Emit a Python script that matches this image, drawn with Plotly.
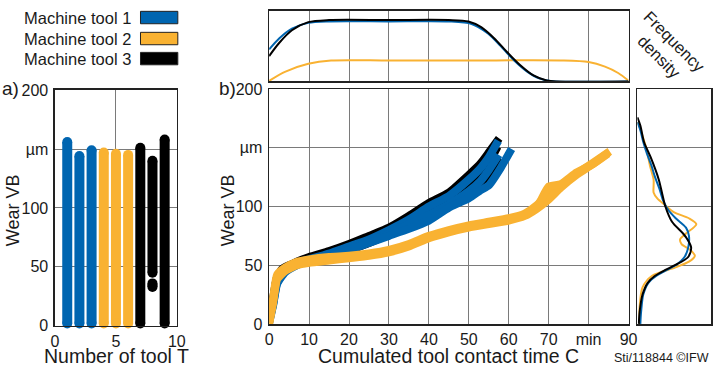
import plotly.graph_objects as go

W, H = 722, 373
FONT = "Liberation Sans, Arial, sans-serif"
TXT = "#1a1a1a"

# ---------------- colours / series names ----------------
machines = ["Machine tool 1", "Machine tool 2", "Machine tool 3"]
colors = ["#0065B0", "#F9B232", "#000000"]

# ---------------- panel a) wear range per tool ----------------
a_tool_m1 = [1, 2, 3]
a_low_m1 = [2, 2, 2]
a_high_m1 = [156, 144, 149]
a_tool_m2 = [4, 5, 6]
a_low_m2 = [2, 2, 2]
a_high_m2 = [147, 146, 145]
a_tool_m3 = [7, 8, 8, 9]
a_low_m3 = [2, 33, 45, 2]
a_high_m3 = [151, 36, 140, 158]

# ---------------- panel b) wear curves (t in min, VB in µm) ----------------
t_b1 = [0, 1, 2, 4, 7, 10, 15, 20, 25, 30, 35, 40, 45, 50, 53, 55, 57.4]
w_b1 = [3, 19, 37, 46, 52, 55, 60, 66, 72, 80, 89, 100, 109, 123, 133, 142, 156]
t_b2 = [0, 1, 2, 4, 7, 10, 15, 20, 25, 30, 35, 40, 45, 50, 53, 55, 57.5]
w_b2 = [2, 17, 35, 45, 51, 54, 59, 64, 70, 77, 85, 93, 102, 113, 122, 131, 144]
t_b3 = [0, 1, 2, 4, 7, 10, 15, 20, 25, 30, 35, 40, 45, 50, 53, 55, 58, 60.7]
w_b3 = [1, 16, 34, 44, 50, 54, 58, 63, 69, 75, 81, 88, 99, 107, 114, 118, 133, 149]

t_y4 = [0, 1, 2, 4, 7, 10, 15, 20, 25, 30, 35, 40, 45, 50, 55, 60, 64, 67, 70, 73, 77, 81, 85.3]
w_y4 = [2, 22, 42, 48, 53, 55, 57, 58, 60, 63, 68, 75, 80, 84, 87, 90, 94, 101, 112, 118, 128, 137, 147]
t_y5 = [0, 1, 2, 4, 7, 10, 15, 20, 25, 30, 35, 40, 45, 50, 55, 60, 64, 67, 70, 73, 77, 81, 85]
w_y5 = [0, 18, 38, 45, 50, 52, 54, 56, 58, 61, 66, 73, 78, 82, 85, 88, 92, 98, 106, 116, 127, 136, 146]
t_y6 = [0, 1, 2, 4, 7, 10, 15, 20, 25, 30, 35, 40, 45, 50, 55, 60, 64, 67, 70, 73, 77, 81, 84.8]
w_y6 = [1, 20, 40, 47, 51, 54, 56, 57, 59, 62, 67, 74, 79, 83, 86, 89, 93, 99, 117, 119, 129, 136, 145]

t_k7 = [0, 1, 2, 4, 7, 10, 15, 20, 25, 30, 35, 40, 45, 50, 53, 55, 57.2]
w_k7 = [4, 20, 38, 46, 52, 56, 61, 66, 72, 79, 87, 96, 105, 118, 128, 137, 151]
t_k8 = [1.5, 2, 3, 5, 8, 10, 15, 20, 25, 30, 35, 40, 45, 50, 53, 55, 58.2]
w_k8 = [33, 36, 46, 50, 53, 55, 59, 63, 69, 76, 84, 92, 100, 111, 120, 127, 140]
t_k9 = [0, 1, 2, 4, 7, 10, 15, 20, 25, 30, 35, 40, 45, 50, 53, 55, 57.6]
w_k9 = [6, 22, 40, 47, 53, 57, 62, 68, 75, 82, 92, 103, 112, 127, 137, 146, 158]

# ---------------- top: frequency density over contact time ----------------
dt_m1 = [0, 2.5, 5.7, 9.8, 15, 30, 45, 50.7, 54.8, 58, 61.3, 64.6, 67.8, 71, 90]
dv_m1 = [0.455, 0.61, 0.75, 0.83, 0.85, 0.85, 0.85, 0.815, 0.68, 0.5, 0.3, 0.14, 0.04, 0.005, 0]
dt_m2 = [0, 4.1, 9.8, 15.5, 30, 50, 73, 80, 84.1, 87.4, 90]
dv_m2 = [0.01, 0.14, 0.25, 0.297, 0.297, 0.297, 0.297, 0.275, 0.21, 0.12, 0.01]
dt_m3 = [0, 2.5, 5.7, 9.8, 15, 30, 45, 49.9, 53.1, 56.4, 59.7, 62.9, 66.2, 69.5, 72, 90]
dv_m3 = [0.36, 0.545, 0.725, 0.84, 0.87, 0.87, 0.87, 0.85, 0.77, 0.61, 0.41, 0.23, 0.085, 0.014, 0, 0]

# ---------------- right: frequency density over wear ----------------
rw_m1 = [0, 10, 25, 35, 41, 46, 50, 57, 65, 75, 82, 90, 97, 105, 115, 125, 135, 145, 155, 165, 172]
rv_m1 = [0.04, 0.05, 0.08, 0.15, 0.26, 0.40, 0.52, 0.64, 0.69, 0.70, 0.66, 0.52, 0.42, 0.35, 0.30, 0.24, 0.19, 0.13, 0.08, 0.04, 0.0]
rw_m2 = [0, 14, 31, 41, 48, 53, 58, 63, 68, 72, 77, 85, 90, 95, 101, 107, 112, 117, 123, 135, 150, 160, 168, 172]
rv_m2 = [0.03, 0.03, 0.07, 0.20, 0.51, 0.70, 0.78, 0.72, 0.60, 0.58, 0.66, 0.80, 0.70, 0.50, 0.38, 0.27, 0.22, 0.22, 0.22, 0.17, 0.12, 0.07, 0.03, 0.0]
rw_m3 = [0, 10, 25, 35, 41, 46, 50, 57, 65, 72, 77, 87, 100, 110, 123, 142, 155, 169, 176]
rv_m3 = [0.02, 0.03, 0.07, 0.14, 0.24, 0.38, 0.51, 0.69, 0.73, 0.68, 0.62, 0.47, 0.38, 0.34, 0.29, 0.18, 0.09, 0.04, 0.0]

# ---------------- ticks ----------------
a_xticks = [0, 5, 10]
wear_tickvals = [0, 50, 100, 150, 200]
wear_ticktext = ["0", "50", "100", "µm", "200"]
c_tickvals = [0, 10, 20, 30, 40, 50, 60, 70, 80, 90]
c_ticktext = ["0", "10", "20", "30", "40", "50", "60", "70", "min", "90"]


def px(x):
    return x / W


def py(y):
    return 1 - y / H


fig = go.Figure()

# panel a
for tools, lows, highs, col in [
    (a_tool_m1, a_low_m1, a_high_m1, colors[0]),
    (a_tool_m2, a_low_m2, a_high_m2, colors[1]),
    (a_tool_m3, a_low_m3, a_high_m3, colors[2]),
]:
    xs, ys = [], []
    for t, lo, hi in zip(tools, lows, highs):
        xs += [t, t, None]
        ys += [lo, hi, None]
    fig.add_trace(go.Scatter(x=xs, y=ys, mode="lines+markers", xaxis="x", yaxis="y",
                             line=dict(color=col, width=10),
                             marker=dict(color=col, size=10), showlegend=False,
                             cliponaxis=False))

# panel b : black, then blue, then yellow on top
curves = [
    (t_k7, w_k7, colors[2]), (t_k8, w_k8, colors[2]), (t_k9, w_k9, colors[2]),
    (t_b1, w_b1, colors[0]), (t_b2, w_b2, colors[0]), (t_b3, w_b3, colors[0]),
    (t_y4, w_y4, colors[1]), (t_y5, w_y5, colors[1]), (t_y6, w_y6, colors[1]),
]
for t, w, col in curves:
    fig.add_trace(go.Scatter(x=t, y=w, mode="lines", xaxis="x2", yaxis="y2",
                             line=dict(color=col, width=8, shape="spline", smoothing=0.5),
                             showlegend=False))

# top density
for t, v, col in [(dt_m2, dv_m2, colors[1]), (dt_m1, dv_m1, colors[0]), (dt_m3, dv_m3, colors[2])]:
    fig.add_trace(go.Scatter(x=t, y=v, mode="lines", xaxis="x3", yaxis="y3",
                             line=dict(color=col, width=2, shape="spline", smoothing=0.8),
                             showlegend=False))

# right density
for w, v, col in [(rw_m2, rv_m2, colors[1]), (rw_m1, rv_m1, colors[0]), (rw_m3, rv_m3, colors[2])]:
    fig.add_trace(go.Scatter(x=v, y=w, mode="lines", xaxis="x4", yaxis="y4",
                             line=dict(color=col, width=2, shape="spline", smoothing=0.8),
                             showlegend=False))

axis_common = dict(showline=True, linecolor="#222222", linewidth=1.6, mirror=True,
                   showgrid=True, gridcolor="#7a7a7a", gridwidth=1, zeroline=False,
                   ticks="", tickfont=dict(family=FONT, size=16, color=TXT))

fig.update_layout(
    width=W, height=H,
    margin=dict(l=0, r=0, t=0, b=0),
    paper_bgcolor="white", plot_bgcolor="white",
    showlegend=False,
    font=dict(family=FONT, color=TXT),
    xaxis=dict(axis_common, domain=[px(52), px(176)], range=[0, 10],
               tickvals=a_xticks, anchor="y"),
    yaxis=dict(axis_common, domain=[py(333), py(86)], range=[0, 200],
               tickvals=wear_tickvals, ticktext=wear_ticktext, anchor="x",
               ticklabelstandoff=2),
    xaxis2=dict(axis_common, domain=[px(270), px(636)], range=[0, 90],
                tickvals=c_tickvals, ticktext=c_ticktext, anchor="y2"),
    yaxis2=dict(axis_common, domain=[py(331), py(85)], range=[0, 200],
                tickvals=wear_tickvals, ticktext=wear_ticktext, anchor="x2",
                ticklabelstandoff=2),
    xaxis3=dict(axis_common, domain=[px(270), px(636)], range=[0, 90],
                tickvals=c_tickvals, showticklabels=False, anchor="y3"),
    yaxis3=dict(axis_common, domain=[py(77), py(3)], range=[0, 1],
                showgrid=False, showticklabels=False, anchor="x3"),
    xaxis4=dict(axis_common, domain=[px(645), px(720)], range=[0, 1],
                showgrid=False, showticklabels=False, anchor="y4"),
    yaxis4=dict(axis_common, domain=[py(331), py(85)], range=[0, 200],
                tickvals=wear_tickvals, showticklabels=False, anchor="x4"),
)

ann = []


def add_text(text, x, y, size, angle=0, xanchor="center"):
    ann.append(dict(text=text, x=px(x), y=py(y), xref="paper", yref="paper",
                    showarrow=False, textangle=angle, xanchor=xanchor, yanchor="middle",
                    font=dict(family=FONT, size=size, color=TXT)))


add_text("Wear VB", 10, 212, 18, -90)
add_text("Wear VB", 228, 212, 18, -90)
add_text("Number of tool T", 115, 365, 19.5)
add_text("Cumulated tool contact time C", 453, 365, 19.5)
add_text("a)", 7, 84, 19)
add_text("b)", 228, 84, 19)
add_text("Frequency<br>density", 676, 43, 16.5, 45)
add_text("Sti/118844 ©IFW", 720, 367, 12.5, 0, "right")

shapes = []
legend_rows = [10, 32, 53]
for name, col, yc in zip(machines, colors, legend_rows):
    add_text(name, 131, yc, 16.5, 0, "right")
    shapes.append(dict(type="rect", xref="paper", yref="paper",
                       x0=px(139), x1=px(177), y0=py(yc + 6.5), y1=py(yc - 6.5),
                       fillcolor=col, line=dict(color="#222222", width=1)))

fig.update_layout(annotations=ann, shapes=shapes)
fig.write_html("out.html",
               config={"displayModeBar": False, "staticPlot": True},
               post_script="document.body.style.margin='0px';"
                           "document.body.style.overflow='hidden';")
